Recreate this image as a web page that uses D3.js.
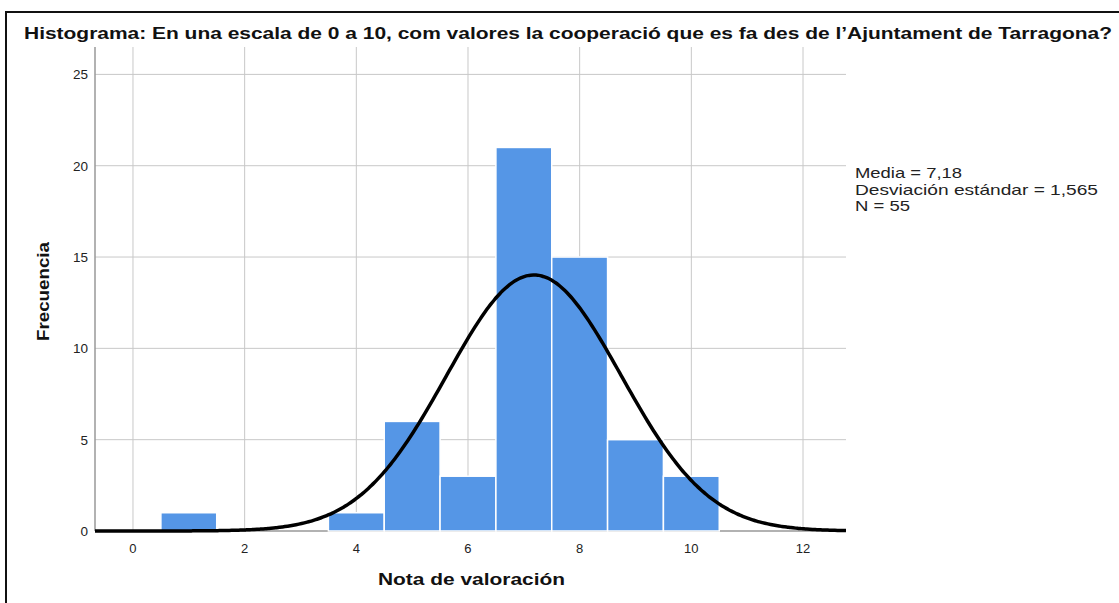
<!DOCTYPE html>
<html>
<head>
<meta charset="utf-8">
<script src="https://cdn.jsdelivr.net/npm/d3@7"></script>
<style>
  body { margin: 0; background: #fff; }
  svg { display: block; font-family: "Liberation Sans", Arial, sans-serif; }
</style>
</head>
<body>
<div id="chart"></div>
<script>
// histogram bins (centre of bin) and counts
var BINS = [1, 4, 5, 6, 7, 8, 9, 10];
var COUNTS = [1, 1, 6, 3, 21, 15, 5, 3];
var BIN_WIDTH = 1;

var XTICKS = [0, 2, 4, 6, 8, 10, 12];
var YTICKS = [0, 5, 10, 15, 20, 25];

// stats shown in the legend, used for the normal curve
var MEAN = 7.18;
var SD = 1.565;
var N = 55;
var STATS = ['Media = 7,18', 'Desviación estándar = 1,565', 'N = 55'];

var TITLE = 'Histograma: En una escala de 0 a 10, com valores la cooperació que es fa des de l\u2019Ajuntament de Tarragona?';
var XLABEL = 'Nota de valoración';
var YLABEL = 'Frecuencia';

var W = 1119, H = 603;
var plot = {left: 95, right: 846, top: 47, bottom: 531};

var svg = d3.select('#chart').append('svg')
  .attr('width', W)
  .attr('height', H);

// stretch a text element horizontally to a given width (the picture is a bit wide)
function fitWidth(sel, width) {
  sel.attr('textLength', width).attr('lengthAdjust', 'spacingAndGlyphs');
}

// frame
svg.append('path')
  .attr('d', 'M6,' + H + ' L6,12 L' + W + ',12')
  .attr('fill', 'none')
  .attr('stroke', '#111')
  .attr('stroke-width', 2);

// title
var title = svg.append('text')
  .attr('x', 24)
  .attr('y', 39)
  .attr('font-weight', 'bold')
  .attr('font-size', 16)
  .attr('fill', '#111')
  .text(TITLE);
fitWidth(title, 1088);

var x = d3.scaleLinear().domain([-0.68, 12.77]).range([plot.left, plot.right]);
var y = d3.scaleLinear().domain([0, 26.5]).range([plot.bottom, plot.top]);

// grid
svg.append('g').selectAll('line')
  .data(YTICKS.slice(1))
  .enter().append('line')
    .attr('x1', plot.left).attr('x2', plot.right)
    .attr('y1', function(d) { return y(d); })
    .attr('y2', function(d) { return y(d); })
    .attr('stroke', '#c8c8c8')
    .attr('stroke-width', 1);

svg.append('g').selectAll('line')
  .data(XTICKS)
  .enter().append('line')
    .attr('x1', function(d) { return x(d); })
    .attr('x2', function(d) { return x(d); })
    .attr('y1', plot.top).attr('y2', plot.bottom)
    .attr('stroke', '#c8c8c8')
    .attr('stroke-width', 1);

// axis lines
svg.append('line')
  .attr('x1', plot.left).attr('x2', plot.left)
  .attr('y1', plot.top).attr('y2', plot.bottom)
  .attr('stroke', '#999').attr('stroke-width', 1.5);
svg.append('line')
  .attr('x1', plot.left).attr('x2', plot.right)
  .attr('y1', plot.bottom).attr('y2', plot.bottom)
  .attr('stroke', '#999').attr('stroke-width', 1.5);

// tick labels
svg.append('g').selectAll('text')
  .data(YTICKS)
  .enter().append('text')
    .attr('x', 88)
    .attr('y', function(d) { return y(d) + 5; })
    .attr('text-anchor', 'end')
    .attr('font-size', 13.5)
    .attr('fill', '#222')
    .text(function(d) { return d; });

svg.append('g').selectAll('text')
  .data(XTICKS)
  .enter().append('text')
    .attr('x', function(d) { return x(d); })
    .attr('y', 553)
    .attr('text-anchor', 'middle')
    .attr('font-size', 13)
    .attr('fill', '#222')
    .text(function(d) { return d; });

// bars
svg.append('g').selectAll('rect')
  .data(BINS)
  .enter().append('rect')
    .attr('x', function(d) { return x(d - BIN_WIDTH / 2); })
    .attr('width', function(d) { return x(d + BIN_WIDTH / 2) - x(d - BIN_WIDTH / 2); })
    .attr('y', function(d, i) { return y(COUNTS[i]); })
    .attr('height', function(d, i) { return y(0) - y(COUNTS[i]); })
    .attr('fill', '#5596e6')
    .attr('stroke', '#fff')
    .attr('stroke-width', 1.5);

// normal curve from the legend stats
function density(v) {
  return N * BIN_WIDTH / (SD * Math.sqrt(2 * Math.PI)) * Math.exp(-0.5 * Math.pow((v - MEAN) / SD, 2));
}
var xs = d3.range(x.domain()[0], x.domain()[1] + 0.001, 0.05);
var line = d3.line()
  .x(function(d) { return x(d); })
  .y(function(d) { return y(density(d)); })
  .curve(d3.curveBasis);
svg.append('path')
  .datum(xs)
  .attr('d', line)
  .attr('fill', 'none')
  .attr('stroke', '#000')
  .attr('stroke-width', 3.5);

// stats
var statWidths = [107, 243, 55];
svg.append('g').selectAll('text')
  .data(STATS)
  .enter().append('text')
    .attr('x', 855)
    .attr('y', function(d, i) { return 178 + i * 16.7; })
    .attr('font-size', 15)
    .attr('fill', '#222')
    .text(function(d) { return d; })
    .each(function(d, i) { fitWidth(d3.select(this), statWidths[i]); });

// axis titles
var xl = svg.append('text')
  .attr('x', 378)
  .attr('y', 585)
  .attr('font-weight', 'bold')
  .attr('font-size', 17)
  .attr('fill', '#111')
  .text(XLABEL);
fitWidth(xl, 187);

var yl = svg.append('text')
  .attr('transform', 'translate(49,341) rotate(-90)')
  .attr('font-weight', 'bold')
  .attr('font-size', 17)
  .attr('fill', '#111')
  .text(YLABEL);
fitWidth(yl, 99);
</script>
</body>
</html>
